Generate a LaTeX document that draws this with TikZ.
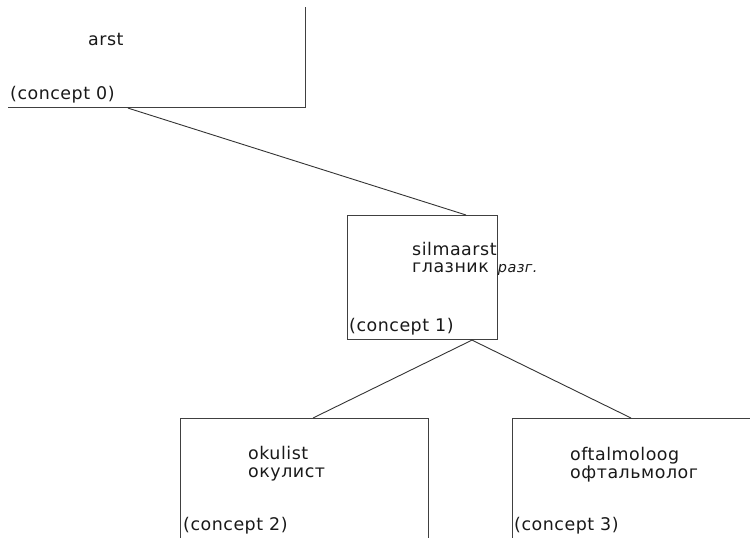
\documentclass[tikz,border=0pt]{standalone}
\usepackage{fontspec}
\setmainfont{DejaVu Sans}[LetterSpace=3]
\begin{document}
\begin{tikzpicture}[x=1bp,y=-1bp,
  box/.style={draw=black!75,line width=1.1bp,rectangle,inner sep=0pt,anchor=north west},
  lbl/.style={anchor=base west,inner sep=0pt,font=\fontsize{17.5}{20}\selectfont,text=black!90},
  link/.style={draw=black!80,line width=0.9bp}]
\useasboundingbox (0,0) rectangle (750,538);
\clip (0,0) rectangle (750,538);
% boxes
\begin{scope}
\clip (8,8) rectangle (750,538);
\node[box,minimum width=325bp,minimum height=127bp] (c0) at (-20,-20) {};
\end{scope}
\node[box,minimum width=150bp,minimum height=124bp] (c1) at (347,215) {};
\node[box,minimum width=248bp,minimum height=140bp] (c2) at (180,418) {};
\node[box,minimum width=260bp,minimum height=140bp] (c3) at (512,418) {};
% texts
\node[lbl] (t0) at (88,46) {arst};
\node[lbl] (k0) at (10,100) {(concept 0)};
\node[lbl] (t1a) at (412,256) {silmaarst};
\node[lbl] (t1b) at (412,273) {глазник\hspace{3bp} {\fontsize{14.5}{16}\selectfont\itshape разг.}};
\node[lbl] (k1) at (349,331) {(concept 1)};
\node[lbl] (t2a) at (248,459) {okulist};
\node[lbl] (t2b) at (248,477) {окулист};
\node[lbl] (k2) at (183,530) {(concept 2)};
\node[lbl] (t3a) at (570,460) {oftalmoloog};
\node[lbl] (t3b) at (570,478) {офтальмолог};
\node[lbl] (k3) at (514,530) {(concept 3)};
% connectors
\draw[link] ([xshift=148bp]c0.south west) -- ([xshift=119bp]c1.north west);
\draw[link] ([xshift=125bp]c1.south west) -- ([xshift=133bp]c2.north west);
\draw[link] ([xshift=125bp]c1.south west) -- ([xshift=119bp]c3.north west);
\end{tikzpicture}
\end{document}
